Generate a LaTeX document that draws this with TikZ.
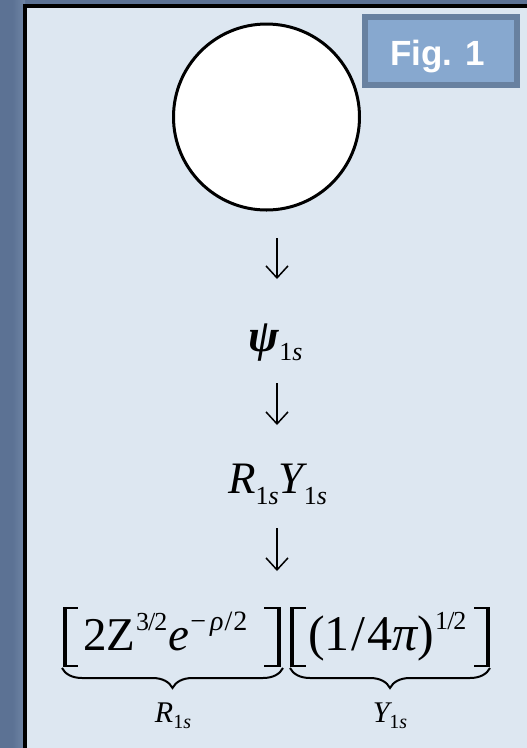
\documentclass[tikz,border=0pt]{standalone}
\usepackage{fontspec}
\setmainfont{Liberation Serif}
\newfontfamily\figfont{Liberation Sans}
\usetikzlibrary{arrows.meta,decorations.pathreplacing}
\definecolor{bgstone}{RGB}{92,114,148}
\definecolor{bgstonelight}{RGB}{112,134,166}
\definecolor{panelfill}{RGB}{221,231,241}
\definecolor{figfill}{RGB}{135,168,207}
\definecolor{figborder}{RGB}{104,129,160}
\newcommand{\fsz}[1]{\fontsize{#1}{#1}\selectfont}
\begin{document}
\begin{tikzpicture}[x=1pt,y=-1pt,
  downarr/.style={line width=1.5pt,-{Straight Barb[length=12pt,width=22pt]}},
  txt/.style={inner sep=0pt,outer sep=0pt},
  bracketv/.style={line width=4pt},
  bracketh/.style={line width=2pt},
  ubrace/.style={line width=2pt,decorate,decoration={brace,mirror,amplitude=20pt}}]
\useasboundingbox (0,0) rectangle (527,748);
\clip (0,0) rectangle (527,748);
% background texture and panel
\fill[bgstone] (0,0) rectangle (527,748);
\shade[left color=bgstone,right color=bgstonelight,middle color=bgstone] (0,0) rectangle (25,748);
\fill[panelfill] (25,6) rectangle (540,760);
\draw[line width=4.6pt] (25,760) -- (25,6) -- (540,6);
% Fig. 1 label
\node[draw=figborder,fill=figfill,line width=6pt,minimum width=151.5pt,minimum height=68pt,inner sep=0pt] (figlabel) at (440.75,51) {};
\node[txt,anchor=base,text=white] (figtext) at (437.5,65) {\figfont\bfseries\fsz{35}Fig. 1};
% circle
\node[circle,draw,fill=white,line width=3pt,minimum size=186pt,inner sep=0pt] (circ) at (266.5,117) {};
% psi
\node[txt,anchor=base] (psi) at (275.5,351) {\fsz{46}{\bfseries\itshape ψ}\raisebox{-9pt}{\fsz{26}1\itshape s}};
% R Y
\node[txt,anchor=base] (ry) at (277.5,493) {\fsz{45}\itshape R\raisebox{-11pt}{\fsz{26}\upshape 1\itshape s}Y\raisebox{-11pt}{\fsz{26}\upshape 1\itshape s}};
% formula
\node[txt,anchor=base west] (fR) at (83,650) {\fsz{47}2Z\kern1pt\raisebox{20pt}{\fsz{26}3\kern-1pt/\kern-1pt2}\kern1pt\itshape e\kern1pt\raisebox{20pt}{\fsz{28}\upshape −\kern4pt\itshape ρ\kern1pt\upshape /\kern1pt2}};
\node[txt,anchor=base west] (fY) at (308,650) {\fsz{50}(1\kern2pt/\kern2pt4{\itshape π})\kern1pt\raisebox{21pt}{\fsz{26}1\kern-1pt/\kern-1pt2}};
% brackets
\coordinate (b1t) at (64.5,607); \coordinate (b1b) at (64.5,667);
\draw[bracketv] (b1t) -- (b1b);
\draw[bracketh] (63,608) -- (78,608); \draw[bracketh] (63,666) -- (78,666);
\coordinate (b2t) at (279,607); \coordinate (b2b) at (279,667);
\draw[bracketv] (b2t) -- (b2b);
\draw[bracketh] (264,608) -- (280.5,608); \draw[bracketh] (264,666) -- (280.5,666);
\coordinate (b3t) at (292,607); \coordinate (b3b) at (292,667);
\draw[bracketv] (b3t) -- (b3b);
\draw[bracketh] (290.5,608) -- (306,608); \draw[bracketh] (290.5,666) -- (306,666);
\coordinate (b4t) at (488,607); \coordinate (b4b) at (488,667);
\draw[bracketv] (b4t) -- (b4b);
\draw[bracketh] (474,608) -- (489.5,608); \draw[bracketh] (474,666) -- (489.5,666);
% underbraces
\coordinate (u1a) at (62,668); \coordinate (u1b) at (283,668);
\coordinate (u2a) at (290,668); \coordinate (u2b) at (490,668);
\draw[ubrace] (u1a) -- (u1b);
\draw[ubrace] (u2a) -- (u2b);
\node[txt,anchor=base] (lR) at (173,722) {\fsz{30}\itshape R\raisebox{-6pt}{\fsz{20}\upshape 1\itshape s}};
\node[txt,anchor=base] (lY) at (390,722) {\fsz{30}\itshape Y\raisebox{-6pt}{\fsz{20}\upshape 1\itshape s}};
% arrows
\coordinate (a1s) at (277,238); \coordinate (a1e) at (277,279);
\coordinate (a2s) at (277,383); \coordinate (a2e) at (277,425);
\coordinate (a3s) at (277,528); \coordinate (a3e) at (277,571);
\draw[downarr] (a1s) -- (a1e);
\draw[downarr] (a2s) -- (a2e);
\draw[downarr] (a3s) -- (a3e);
\end{tikzpicture}
\end{document}
